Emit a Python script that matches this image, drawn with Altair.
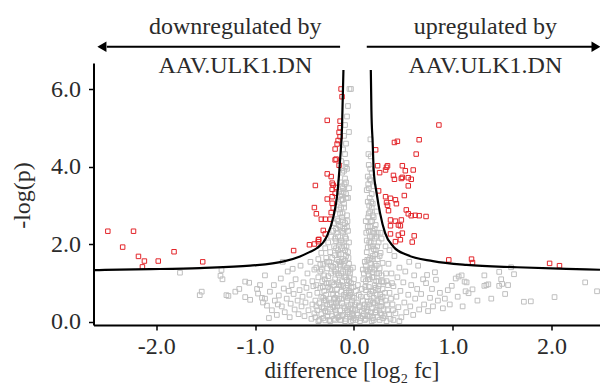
import altair as alt
import pandas as pd

# ---------------- data ----------------
red_x = [-2.49, -2.34, -2.23, -2.18, -2.12, -2.14, -1.98, -1.82, -1.53, -0.61,
         -0.45, -0.40, -0.36, -0.39, -0.40, -0.38,
         -0.13, -0.12, -0.27, -0.14, -0.14, -0.15, -0.14, -0.16, -0.17, -0.19,
         -0.18, -0.19, -0.15, -0.27, -0.23, -0.22, -0.21, -0.18, -0.22, -0.19,
         -0.22, -0.27, -0.22, -0.21, -0.23, -0.33, -0.29, -0.24, -0.31, -0.355,
         -0.29, -0.36,
         0.86, 0.41, 0.44, 0.66, 0.22, 0.63, 0.24, 0.34, 0.33, 0.32, 0.26, 0.49,
         0.52, 0.60, 0.40, 0.41, 0.48, 0.49, 0.55, 0.58, 0.55, 0.25, 0.32, 0.37,
         0.42, 0.33, 0.34, 0.43, 0.51, 0.35, 0.53, 0.55, 0.58, 0.62, 0.66, 0.73,
         0.37, 0.42, 0.48, 0.37, 0.45, 0.47, 0.37, 0.45, 0.49, 0.61, 0.42, 0.47,
         0.59, 0.96, 1.19, 1.20, 1.98, 2.08]
red_y = [2.34, 1.93, 2.34, 1.69, 1.57, 1.42, 1.57, 1.81, 1.55, 1.84,
         1.99, 2.01, 2.12, 3.52, 2.95, 2.79,
         6.01, 5.81, 5.20, 5.18, 5.01, 4.89, 4.78, 4.68, 4.59, 4.46,
         4.20, 4.18, 4.04, 3.82, 3.75, 3.58, 3.53, 3.47, 3.42, 3.32,
         3.23, 3.17, 3.06, 2.94, 2.82, 2.65, 2.65, 2.65, 2.36, 2.13,
         2.27, 2.07,
         5.08, 4.63, 4.66, 4.70, 4.44, 4.33, 4.03, 4.03, 3.99, 3.92, 3.85, 4.03,
         3.90, 3.92, 3.78, 3.68, 3.70, 3.73, 3.72, 3.68, 3.51, 3.38, 3.23, 3.19,
         3.15, 3.08, 3.01, 3.05, 3.26, 2.87, 2.89, 2.79, 2.74, 2.75, 2.74, 2.72,
         2.63, 2.60, 2.63, 2.48, 2.50, 2.48, 2.27, 2.24, 2.29, 2.22, 2.07, 2.12,
         2.06, 1.60, 1.62, 1.53, 1.51, 1.45]

gray_points = [
    # far left, sparse
    (-1.76, 1.27), (-1.56, 0.69), (-1.54, 0.78), (-1.34, 1.34), (-1.35, 1.19),
    (-1.33, 1.10), (-1.29, 0.69), (-1.27, 0.67), (-1.20, 0.78), (-1.16, 0.85),
    (-1.10, 1.04), (-1.06, 1.01), (-1.10, 0.64), (-1.05, 0.57), (-0.97, 0.73),
    (-0.98, 0.85), (-0.93, 0.62), (-0.95, 0.95), (-0.92, 0.50), (-0.90, 1.20),
    # -0.9 .. -0.4
    (-0.88, 0.42), (-0.85, 0.78), (-0.83, 0.30), (-0.81, 0.95), (-0.80, 0.55),
    (-0.78, 0.18), (-0.76, 0.68), (-0.74, 1.12), (-0.73, 0.40), (-0.71, 0.86),
    (-0.70, 0.25), (-0.68, 0.60), (-0.67, 1.30), (-0.65, 0.12), (-0.64, 0.47),
    (-0.63, 0.95), (-0.61, 0.72), (-0.60, 0.32), (-0.59, 1.10), (-0.57, 0.55),
    (-0.56, 0.20), (-0.55, 0.82), (-0.54, 1.45), (-0.53, 0.40), (-0.52, 0.65),
    (-0.51, 1.02), (-0.50, 0.15), (-0.49, 0.50), (-0.48, 0.88), (-0.47, 1.25),
    (-0.46, 0.30), (-0.45, 0.70), (-0.44, 1.55), (-0.43, 0.08), (-0.42, 0.45),
    (-0.42, 1.05), (-0.41, 0.92), (-0.40, 0.22), (-0.40, 1.35), (-0.72, 1.55),
    (-0.62, 1.37), (-0.90, 0.60), (-0.86, 0.10), (-0.77, 0.45), (-0.66, 0.80),
    # -0.4 .. -0.2
    (-0.39, 0.12), (-0.39, 0.55), (-0.38, 0.95), (-0.38, 1.40), (-0.37, 0.30),
    (-0.37, 0.75), (-0.36, 1.15), (-0.36, 1.62), (-0.35, 0.05), (-0.35, 0.48),
    (-0.34, 0.88), (-0.34, 1.30), (-0.33, 0.20), (-0.33, 0.65), (-0.33, 1.78),
    (-0.32, 1.05), (-0.32, 0.38), (-0.31, 1.50), (-0.31, 0.10), (-0.30, 0.80),
    (-0.30, 1.20), (-0.30, 0.55), (-0.29, 1.90), (-0.29, 0.28), (-0.28, 1.00),
    (-0.28, 1.65), (-0.28, 0.70), (-0.27, 0.15), (-0.27, 1.38), (-0.27, 0.45),
    (-0.26, 2.05), (-0.26, 0.90), (-0.26, 1.18), (-0.25, 0.05), (-0.25, 0.60),
    (-0.25, 1.55), (-0.24, 0.32), (-0.24, 1.80), (-0.24, 0.85), (-0.23, 1.25),
    (-0.23, 2.20), (-0.23, 0.50), (-0.22, 0.15), (-0.22, 1.02), (-0.22, 1.65),
    (-0.21, 0.72), (-0.21, 2.35), (-0.21, 0.38), (-0.21, 1.42), (-0.20, 1.95),
    (-0.20, 0.08), (-0.20, 0.95), (-0.20, 2.55), (-0.20, 0.58), (-0.36, 0.02),
    (-0.31, 0.62), (-0.29, 0.04), (-0.24, 0.02), (-0.38, 0.40), (-0.34, 1.48),
    (-0.225, 0.82), (-0.235, 1.45), (-0.245, 0.45), (-0.255, 1.00), (-0.265, 0.25),
    (-0.275, 1.55), (-0.285, 0.55), (-0.295, 1.10), (-0.305, 0.35), (-0.315, 0.90),
    (-0.325, 1.35), (-0.195, 1.30), (-0.195, 0.40),
    # -0.2 .. 0.0, low
    (-0.19, 0.05), (-0.18, 0.22), (-0.17, 0.40), (-0.16, 0.12), (-0.15, 0.60),
    (-0.14, 0.30), (-0.13, 0.05), (-0.12, 0.48), (-0.11, 0.18), (-0.10, 0.70),
    (-0.09, 0.35), (-0.08, 0.08), (-0.07, 0.55), (-0.06, 0.25), (-0.05, 0.80),
    (-0.04, 0.12), (-0.03, 0.45), (-0.02, 0.20), (-0.01, 0.05), (-0.19, 0.62),
    (-0.17, 0.85), (-0.15, 0.95), (-0.13, 0.78), (-0.11, 0.92), (-0.08, 0.88),
    (-0.06, 0.62), (-0.04, 0.70), (-0.02, 0.55), (-0.18, 0.48), (-0.12, 0.15),
    (-0.07, 0.30), (-0.03, 0.02), (-0.01, 0.32), (-0.14, 0.05), (-0.09, 0.02),
    (-0.185, 0.30), (-0.175, 0.70), (-0.145, 0.15), (-0.135, 0.95), (-0.105, 0.40),
    (-0.085, 0.65), (-0.065, 0.95), (-0.055, 0.40), (-0.035, 0.75), (-0.025, 0.35),
    (-0.015, 0.65), (-0.165, 0.55), (-0.125, 0.60), (-0.075, 0.75), (-0.045, 0.20),
    (-0.025, 0.90), (-0.015, 0.15),
    # -0.2 .. 0.0, y 1-2
    (-0.19, 1.10), (-0.18, 1.35), (-0.17, 1.60), (-0.16, 1.85), (-0.15, 1.20),
    (-0.14, 1.48), (-0.13, 1.75), (-0.12, 1.05), (-0.11, 1.30), (-0.10, 1.95),
    (-0.09, 1.58), (-0.08, 1.15), (-0.07, 1.40), (-0.06, 1.80), (-0.05, 1.05),
    (-0.04, 1.25), (-0.03, 1.00), (-0.19, 1.72), (-0.16, 1.02), (-0.13, 1.25),
    (-0.11, 1.62), (-0.09, 1.85), (-0.07, 1.08), (-0.05, 1.50), (-0.18, 1.90),
    (-0.15, 1.55), (-0.12, 1.90), (-0.08, 1.70), (-0.06, 1.30),
    (-0.165, 1.25), (-0.155, 1.75), (-0.125, 1.55), (-0.095, 1.15), (-0.075, 1.95),
    (-0.045, 1.15), (-0.185, 1.50), (-0.135, 1.45), (-0.105, 1.45), (-0.085, 1.35),
    (-0.055, 1.65), (-0.035, 1.35),
    # -0.2 .. 0.0, y 2-3
    (-0.19, 2.15), (-0.18, 2.40), (-0.17, 2.65), (-0.16, 2.20), (-0.15, 2.90),
    (-0.14, 2.45), (-0.13, 2.10), (-0.12, 2.70), (-0.11, 2.30), (-0.10, 2.95),
    (-0.09, 2.55), (-0.08, 2.15), (-0.07, 2.75), (-0.06, 2.35), (-0.05, 2.05),
    (-0.14, 2.80), (-0.12, 2.35), (-0.16, 2.60), (-0.09, 2.20), (-0.07, 2.45),
    (-0.18, 2.08), (-0.11, 2.62), (-0.13, 2.95),
    (-0.115, 2.05), (-0.175, 2.30), (-0.155, 2.50), (-0.145, 2.05), (-0.115, 2.80),
    (-0.095, 2.40), (-0.065, 2.60),
    # -0.2 .. 0.0, y 3-6
    (-0.16, 3.10), (-0.15, 3.35), (-0.14, 3.60), (-0.13, 3.15), (-0.12, 3.85),
    (-0.11, 3.45), (-0.10, 3.05), (-0.09, 3.70), (-0.08, 3.30), (-0.07, 3.95),
    (-0.06, 3.20), (-0.12, 3.50), (-0.10, 3.90), (-0.14, 3.25), (-0.08, 3.60),
    (-0.05, 3.45), (-0.13, 4.15), (-0.11, 4.45), (-0.09, 4.33), (-0.075, 4.10),
    (-0.10, 4.80), (-0.09, 5.08), (-0.08, 4.60), (-0.06, 5.57), (-0.045, 6.01),
    (-0.03, 6.01), (-0.07, 5.30), (-0.05, 4.90),
    (-0.105, 3.35), (-0.095, 3.55), (-0.085, 4.00), (-0.115, 3.15), (-0.125, 3.30),
    (-0.075, 3.20),
    # 0.0 .. 0.1 (gap between the lobes)
    (0.00, 0.10), (0.01, 0.30), (0.02, 0.05), (0.03, 0.50), (0.04, 0.18),
    (0.05, 0.70), (0.06, 0.38), (0.07, 0.10), (0.08, 0.85), (0.09, 0.55),
    (0.00, 0.62), (0.02, 0.80), (0.04, 0.95), (0.06, 0.02), (0.08, 0.28),
    (0.01, 0.45), (0.03, 0.22), (0.05, 0.42), (0.07, 0.65), (0.09, 0.15),
    (0.095, 1.10), (0.09, 1.35), (-0.005, 0.90), (0.00, 1.10), (-0.01, 1.40),
    # 0.1 .. 0.3, low
    (0.10, 0.20), (0.11, 0.45), (0.12, 0.08), (0.13, 0.65), (0.14, 0.30),
    (0.15, 0.90), (0.16, 0.15), (0.17, 0.55), (0.18, 0.35), (0.19, 0.78),
    (0.20, 0.05), (0.21, 0.48), (0.22, 0.25), (0.23, 0.70), (0.24, 0.12),
    (0.25, 0.92), (0.26, 0.40), (0.27, 0.60), (0.28, 0.18), (0.29, 0.85),
    (0.30, 0.32), (0.12, 0.82), (0.14, 0.52), (0.16, 0.72), (0.18, 0.02),
    (0.20, 0.62), (0.22, 0.88), (0.24, 0.42), (0.26, 0.05), (0.28, 0.52),
    (0.11, 0.05), (0.13, 0.38), (0.17, 0.25), (0.19, 0.10), (0.21, 0.95),
    (0.23, 0.30), (0.27, 0.22), (0.29, 0.65),
    (0.105, 0.35), (0.115, 0.90), (0.135, 0.15), (0.155, 0.45), (0.175, 0.80),
    (0.195, 0.50), (0.215, 0.25), (0.235, 0.55), (0.245, 0.85), (0.265, 0.70),
    (0.275, 0.40), (0.295, 0.10),
    # 0.1 .. 0.3, y 1-2
    (0.10, 1.25), (0.11, 1.55), (0.12, 1.05), (0.13, 1.80), (0.14, 1.30),
    (0.15, 1.60), (0.16, 1.10), (0.17, 1.95), (0.18, 1.40), (0.19, 1.70),
    (0.20, 1.15), (0.21, 1.50), (0.22, 1.85), (0.23, 1.25), (0.24, 1.62),
    (0.25, 1.05), (0.26, 1.38), (0.27, 1.78), (0.28, 1.20), (0.29, 1.52),
    (0.30, 1.02), (0.12, 1.45), (0.14, 1.92), (0.16, 1.35), (0.18, 1.62),
    (0.20, 1.88), (0.23, 1.45), (0.26, 1.70), (0.15, 1.20), (0.19, 1.28),
    (0.125, 1.35), (0.145, 1.10), (0.165, 1.65), (0.185, 1.15), (0.205, 1.35),
    (0.225, 1.05), (0.255, 1.25), (0.285, 1.05), (0.135, 1.60), (0.175, 1.50),
    (0.195, 1.95), (0.215, 1.75), (0.235, 1.95),
    # 0.1 .. 0.3, y 2-3
    (0.13, 2.10), (0.14, 2.45), (0.15, 2.80), (0.16, 2.20), (0.17, 2.60),
    (0.18, 2.95), (0.19, 2.35), (0.20, 2.70), (0.21, 2.15), (0.22, 2.50),
    (0.23, 2.85), (0.24, 2.30), (0.25, 2.05), (0.27, 2.30), (0.15, 2.35),
    (0.17, 2.05), (0.19, 2.75), (0.21, 2.40), (0.12, 2.60), (0.28, 2.15),
    (0.125, 2.30), (0.145, 2.70), (0.155, 2.05), (0.165, 2.45), (0.185, 2.20),
    (0.205, 2.30), (0.225, 2.20), (0.155, 3.00), (0.165, 2.85), (0.185, 2.60),
    # 0.1 .. 0.3, y 3-4.7
    (0.14, 3.10), (0.15, 3.45), (0.16, 3.20), (0.17, 3.65), (0.18, 3.30),
    (0.19, 3.05), (0.14, 3.75), (0.16, 3.68), (0.15, 4.05), (0.17, 4.27),
    (0.147, 4.33), (0.167, 4.71), (0.20, 3.50), (0.13, 3.40), (0.18, 3.85),
    (0.175, 3.10), (0.145, 3.55), (0.165, 3.95),
    # 0.3 .. 1.0
    (0.31, 0.15), (0.32, 0.55), (0.33, 1.05), (0.34, 0.30), (0.35, 1.50),
    (0.36, 0.75), (0.37, 0.08), (0.38, 1.25), (0.39, 0.45), (0.40, 0.92),
    (0.41, 1.70), (0.42, 0.22), (0.43, 0.65), (0.44, 1.15), (0.45, 0.38),
    (0.46, 1.40), (0.47, 0.80), (0.48, 0.12), (0.50, 1.02), (0.51, 0.50),
    (0.52, 1.30), (0.53, 0.25), (0.55, 0.70), (0.56, 1.55), (0.57, 0.40),
    (0.58, 0.95), (0.60, 0.18), (0.61, 1.20), (0.62, 0.60), (0.64, 0.85),
    (0.65, 1.45), (0.66, 0.32), (0.68, 0.72), (0.70, 1.10), (0.71, 0.45),
    (0.73, 1.00), (0.74, 1.21), (0.75, 0.28), (0.77, 0.62), (0.79, 0.85),
    (0.80, 0.40), (0.82, 1.28), (0.83, 1.09), (0.85, 0.55), (0.87, 0.75),
    (0.90, 0.35), (0.92, 0.60), (0.95, 0.82), (0.99, 0.93), (0.97, 0.45),
    (0.33, 0.02), (0.40, 0.05), (0.46, 0.02), (0.36, 1.85), (0.32, 1.95),
    (0.315, 0.75), (0.325, 1.25), (0.335, 0.45), (0.345, 0.95), (0.355, 0.20),
    (0.375, 0.60), (0.385, 1.00), (0.395, 0.30),
    # 1.0 .. 2.5, sparse
    (1.03, 1.12), (1.06, 1.17), (1.09, 1.20), (1.12, 1.04), (1.14, 1.02),
    (1.13, 0.79), (1.16, 0.74), (1.20, 0.84), (1.32, 1.20), (1.32, 0.93),
    (1.34, 0.95), (1.36, 0.97), (1.39, 0.60), (1.47, 1.29), (1.49, 1.10),
    (1.47, 0.93), (1.50, 0.98), (1.56, 0.95), (1.53, 0.72), (1.59, 1.41),
    (1.62, 1.23), (1.72, 0.52), (1.79, 0.53), (2.03, 0.64), (2.34, 1.02),
    (2.46, 0.79), (1.05, 0.65), (1.25, 0.55), (1.10, 0.40),
]
gray_x = [p[0] for p in gray_points]
gray_y = [p[1] for p in gray_points]

curve_left_x = [-2.635, -2.52, -2.06, -1.56, -1.05, -0.71, -0.545, -0.45, -0.376,
                -0.275, -0.207, -0.167, -0.14, -0.12, -0.106]
curve_left_y = [1.335, 1.34, 1.36, 1.39, 1.45, 1.56, 1.69, 1.80, 1.90,
                2.20, 2.72, 3.32, 4.18, 5.04, 6.50]
curve_right_x = [0.171, 0.177, 0.19, 0.20, 0.23, 0.265, 0.316, 0.40, 0.535,
                 0.80, 1.14, 1.65, 2.15, 2.49]
curve_right_y = [6.50, 5.47, 4.61, 3.92, 3.32, 2.80, 2.29, 1.94, 1.73,
                 1.57, 1.47, 1.41, 1.37, 1.345]

x_ticks = [-2, -1, 0, 1, 2]
y_ticks = [0, 2, 4, 6]

label_text = ["downregulated by", "AAV.ULK1.DN", "upregulated by", "AAV.ULK1.DN"]
label_x = [-1.20, -1.20, 1.33, 1.33]
label_y = [7.62, 6.60, 7.62, 6.60]

arrow_x = [-2.50, 0.13]
arrow_x2 = [-0.14, 2.44]
arrow_y = [7.10, 7.10]
head_x = [-2.55, 2.45]
head_shape = ["triangle-left", "triangle-right"]

# ---------------- chart ----------------
FONT = "Liberation Serif"
TXT = "#2b2b2b"

x_scale = alt.Scale(domain=[-2.635, 2.49], nice=False, zero=False)
y_scale = alt.Scale(domain=[-0.08, 6.68], nice=False, zero=False)

x_axis = alt.Axis(values=x_ticks, title="difference [log₂ fc]",
                  labelExpr="(datum.value < 0 ? '-' : '') + format(abs(datum.value), '.1f')",
                  labelFont=FONT, labelFontSize=24, labelColor=TXT, labelPadding=4,
                  tickColor="black", tickSize=5, tickWidth=1.5,
                  domainColor="black", domainWidth=2, grid=False,
                  titleFont=FONT, titleFontSize=23, titleFontWeight="normal",
                  titleColor=TXT, titleBaseline="alphabetic", titleY=52, titleX=258)
y_axis = alt.Axis(values=y_ticks, title="-log(p)", format=".1f",
                  labelFont=FONT, labelFontSize=24, labelColor=TXT, labelPadding=8,
                  tickColor="black", tickSize=5, tickWidth=1.5,
                  domainColor="black", domainWidth=2, grid=False,
                  titleFont=FONT, titleFontSize=24, titleFontWeight="normal",
                  titleColor=TXT, titleBaseline="middle", titleX=-71, titleY=132,
                  titleAngle=-90)

gray_df = pd.DataFrame({"x": gray_x, "y": gray_y})
red_df = pd.DataFrame({"x": red_x, "y": red_y})
cl_df = pd.DataFrame({"x": curve_left_x, "y": curve_left_y})
cr_df = pd.DataFrame({"x": curve_right_x, "y": curve_right_y})
lab_df = pd.DataFrame({"x": label_x, "y": label_y, "t": label_text})
arr_df = pd.DataFrame({"x": arrow_x, "x2": arrow_x2, "y": arrow_y})
head_df = pd.DataFrame({"x": head_x, "y": arrow_y, "s": head_shape})

gray = alt.Chart(gray_df).mark_point(shape="square", filled=False, size=22,
                                     color="#bfbfbf", strokeWidth=1, opacity=1).encode(
    x=alt.X("x:Q", scale=x_scale, axis=x_axis),
    y=alt.Y("y:Q", scale=y_scale, axis=y_axis),
)
red = alt.Chart(red_df).mark_point(shape="square", filled=False, size=20,
                                   color="#e3262b", strokeWidth=1, opacity=1).encode(
    x=alt.X("x:Q", scale=x_scale), y=alt.Y("y:Q", scale=y_scale))
left_curve = alt.Chart(cl_df).mark_line(color="black", strokeWidth=2.2,
                                        interpolate="monotone").encode(
    x=alt.X("x:Q", scale=x_scale), y=alt.Y("y:Q", scale=y_scale))
right_curve = alt.Chart(cr_df).mark_line(color="black", strokeWidth=2.2,
                                         interpolate="monotone").encode(
    x=alt.X("x:Q", scale=x_scale), y=alt.Y("y:Q", scale=y_scale))
labels = alt.Chart(lab_df).mark_text(font=FONT, fontSize=24, color=TXT,
                                     baseline="middle", align="center").encode(
    x=alt.X("x:Q", scale=x_scale), y=alt.Y("y:Q", scale=y_scale), text="t:N")
arrows = alt.Chart(arr_df).mark_rule(color="black", strokeWidth=2).encode(
    x=alt.X("x:Q", scale=x_scale), x2="x2:Q", y=alt.Y("y:Q", scale=y_scale))
heads = alt.Chart(head_df).mark_point(filled=True, size=110, color="black",
                                      opacity=1).encode(
    x=alt.X("x:Q", scale=x_scale), y=alt.Y("y:Q", scale=y_scale),
    shape=alt.Shape("s:N", scale=None))

chart = alt.layer(gray, red, left_curve, right_curve, arrows, heads, labels).properties(
    width=506.5, height=262,
    autosize=alt.AutoSizeParams(type="none"),
    padding={"left": 85.5, "top": 55, "right": 0, "bottom": 59},
    background="white",
).configure_view(strokeWidth=0)

chart.save("out.html", embed_options={"renderer": "svg", "actions": False})
